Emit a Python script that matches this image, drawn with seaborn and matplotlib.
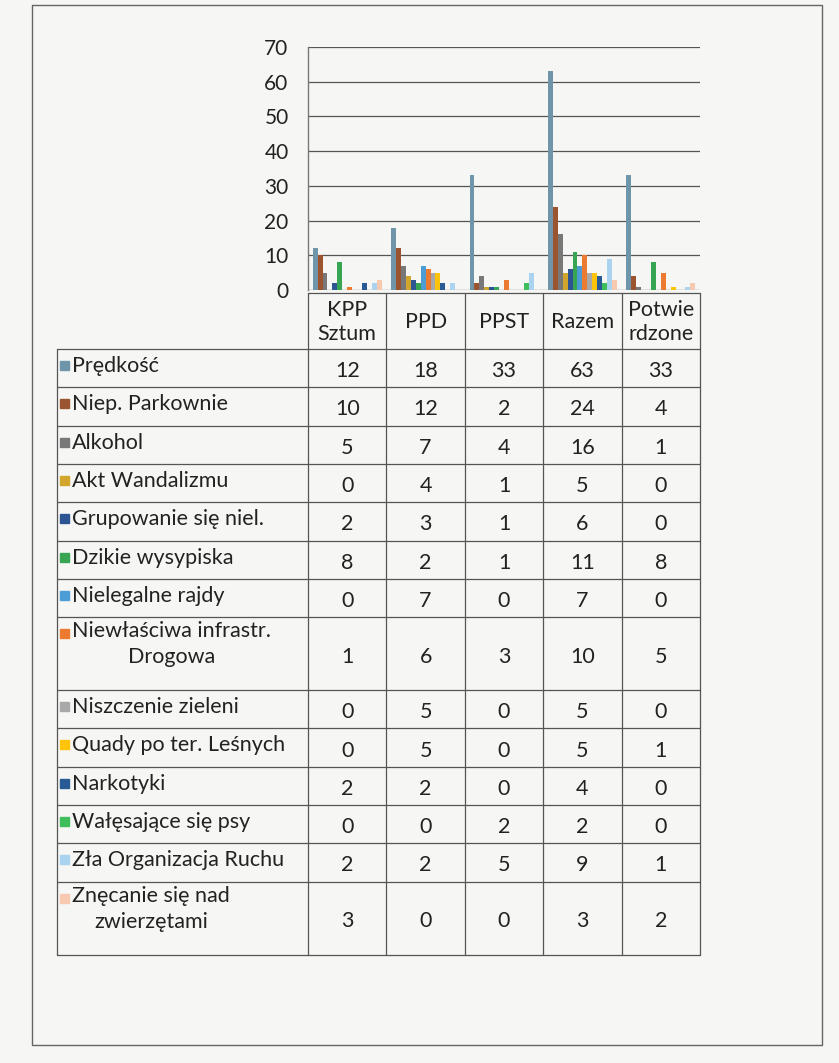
import numpy as np
import pandas as pd
import matplotlib
matplotlib.use("Agg")
import matplotlib.pyplot as plt
from matplotlib.patches import Rectangle
import seaborn as sns

# ---------------- data ----------------
groups = ["KPP Sztum", "PPD", "PPST", "Razem", "Potwierdzone"]
group_headers = ["KPP\nSztum", "PPD", "PPST", "Razem", "Potwie\nrdzone"]
series = [
    "Prędkość", "Niep. Parkownie", "Alkohol", "Akt Wandalizmu",
    "Grupowanie się niel.", "Dzikie wysypiska", "Nielegalne rajdy",
    "Niewłaściwa infrastr.\nDrogowa", "Niszczenie zieleni",
    "Quady po ter. Leśnych", "Narkotyki", "Wałęsające się psy",
    "Zła Organizacja Ruchu", "Znęcanie się nad\nzwierzętami",
]
predkosc = [12, 18, 33, 63, 33]
niep_parkowanie = [10, 12, 2, 24, 4]
alkohol = [5, 7, 4, 16, 1]
akt_wandalizmu = [0, 4, 1, 5, 0]
grupowanie = [2, 3, 1, 6, 0]
dzikie_wysypiska = [8, 2, 1, 11, 8]
nielegalne_rajdy = [0, 7, 0, 7, 0]
infrastruktura = [1, 6, 3, 10, 5]
niszczenie_zieleni = [0, 5, 0, 5, 0]
quady = [0, 5, 0, 5, 1]
narkotyki = [2, 2, 0, 4, 0]
psy = [0, 0, 2, 2, 0]
organizacja_ruchu = [2, 2, 5, 9, 1]
znecanie = [3, 0, 0, 3, 2]
values = [predkosc, niep_parkowanie, alkohol, akt_wandalizmu, grupowanie,
          dzikie_wysypiska, nielegalne_rajdy, infrastruktura, niszczenie_zieleni,
          quady, narkotyki, psy, organizacja_ruchu, znecanie]
y_ticks = [0, 10, 20, 30, 40, 50, 60, 70]

colors = ["#6e95a9", "#9a5530", "#787878", "#d2a52c", "#2d5493", "#38a552",
          "#4c9dd6", "#ec7a30", "#a8a8a8", "#ffc30a", "#285b95", "#3fbf5c",
          "#a9d3ef", "#f7c9b0"]

rows = []
for s, vals in zip(series, values):
    for g, v in zip(groups, vals):
        rows.append({"grupa": g, "seria": s, "wartosc": v})
df = pd.DataFrame(rows)

# ---------------- figure ----------------
W, H = 839, 1063
sns.set_theme(style="white")
plt.rcParams["font.family"] = ["Lato", "DejaVu Sans"]
paper = "#f6f6f4"
fig = plt.figure(figsize=(W / 100, H / 100), dpi=100, facecolor=paper)

def fx(x):
    return x / W

def fy(y):
    return 1 - y / H

# layout (pixels)
TL, TR = 308, 700          # data columns left/right
LBL_L = 57                 # label column left
HDR_T, HDR_B = 293, 349    # header row
AX_T, AX_B = 47, 290       # plot area

ax = fig.add_axes([fx(TL), fy(AX_B), fx(TR - TL), (AX_B - AX_T) / H])
ax.set_facecolor(paper)
sns.barplot(data=df, x="grupa", y="wartosc", hue="seria", order=groups,
            hue_order=series, palette=colors, saturation=1, width=0.88,
            legend=False, ax=ax, linewidth=0)
ax.set_ylim(0, 70)
ax.set_xlim(-0.5, len(groups) - 0.5)
ax.set_yticks(y_ticks)
ax.set_yticklabels([str(t) for t in y_ticks], fontsize=15, color="#222222")
ax.tick_params(axis="y", length=0, pad=14)
ax.set_xticks([])
ax.set_xlabel("")
ax.set_ylabel("")
ax.yaxis.grid(True, color="#555555", linewidth=0.9)
ax.set_axisbelow(True)
for sp in ["top", "right", "bottom"]:
    ax.spines[sp].set_visible(False)
ax.spines["left"].set_color("#777777")
ax.spines["left"].set_linewidth(1.0)

# ---------------- data table ----------------
tab = fig.add_axes([0, 0, 1, 1], facecolor="none")
tab.set_xlim(0, W)
tab.set_ylim(H, 0)
tab.axis("off")

ncol = len(groups)
col_w = (TR - TL) / ncol
col_edges = [TL + i * col_w for i in range(ncol + 1)]
row_h = [73 if "\n" in s else 38.3 for s in series]
row_edges = [HDR_B]
for h in row_h:
    row_edges.append(row_edges[-1] + h)
bottom = row_edges[-1]

lc, lw = "#555555", 0.9
tab.plot([TL, TR], [HDR_T, HDR_T], color=lc, lw=lw)
for y in row_edges:
    tab.plot([LBL_L, TR], [y, y], color=lc, lw=lw)
tab.plot([LBL_L, LBL_L], [HDR_B, bottom], color=lc, lw=lw)
for x in col_edges:
    tab.plot([x, x], [HDR_T, bottom], color=lc, lw=lw)

txt = "#222222"
fs = 15.5
for i, h in enumerate(group_headers):
    cx = (col_edges[i] + col_edges[i + 1]) / 2
    tab.text(cx, (HDR_T + HDR_B) / 2 + 1, h, ha="center", va="center",
             fontsize=fs, color=txt, linespacing=1.25)

for r, (s, vals, c) in enumerate(zip(series, values, colors)):
    y0, y1 = row_edges[r], row_edges[r + 1]
    ty = y0 + 17
    tab.add_patch(Rectangle((LBL_L + 3, ty - 5), 9, 9, color=c))
    if "\n" in s:
        tab.text(LBL_L + 15, y0 + 4, s, ha="left", va="top", fontsize=fs,
                 color=txt, multialignment="center", linespacing=1.4)
    else:
        tab.text(LBL_L + 15, ty, s, ha="left", va="center", fontsize=fs,
                 color=txt)
    cy = (y0 + y1) / 2 + 3
    for i, v in enumerate(vals):
        cx = (col_edges[i] + col_edges[i + 1]) / 2
        tab.text(cx, cy, str(v), ha="center", va="center", fontsize=fs,
                 color=txt)

# page frame of the scanned sheet
tab.plot([32, 32, 822, 822, 32], [5, 1045, 1045, 5, 5], color="#666666", lw=1.0)

fig.savefig("out.png", dpi=100, facecolor=paper)
